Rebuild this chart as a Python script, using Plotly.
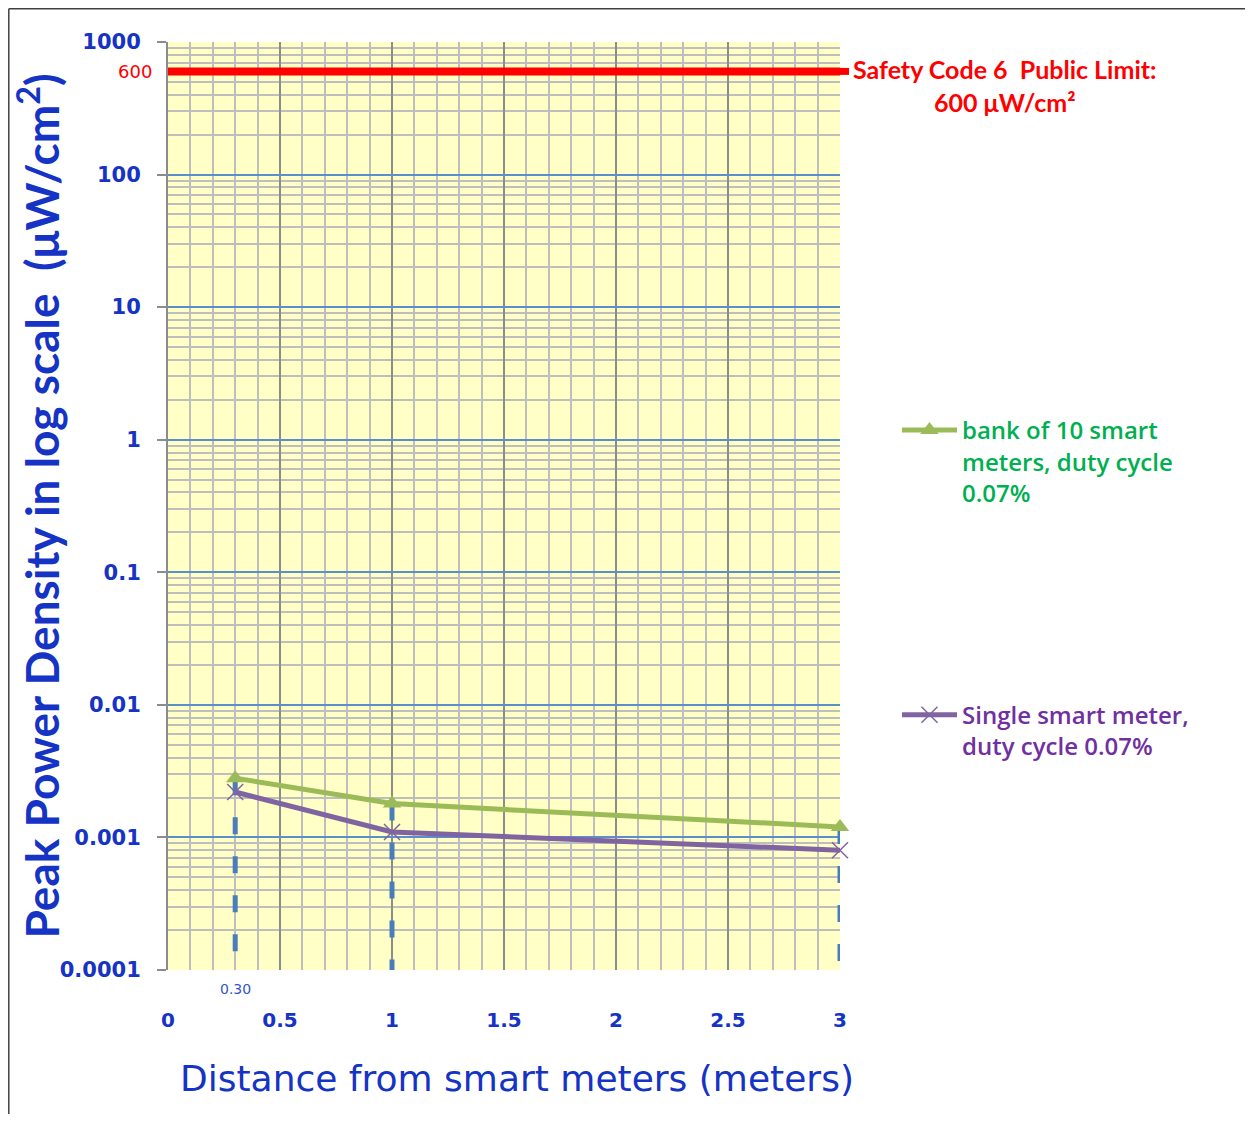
import math
import plotly.graph_objects as go

# ---- data ----
distance = [0.3, 1, 3]
bank_of_10 = [0.0028, 0.0018, 0.0012]
single_meter = [0.0022, 0.0011, 0.0008]
limit_x = [0, 3]
limit_value = 600

y_tickvals = [1000, 100, 10, 1, 0.1, 0.01, 0.001, 0.0001]
y_ticktext = ["1000", "100", "10", "1", "0.1", "0.01", "0.001", "0.0001"]
x_tickvals = [0, 0.5, 1, 1.5, 2, 2.5, 3]
x_ticktext = ["0", "0.5", "1", "1.5", "2", "2.5", "3"]

BLUE_TXT = "#1533C4"
OFF = 8  # page body margin
W, H = 1253 - 2 * OFF, 1122 - 2 * OFF
PX0, PX1, PY0, PY1 = 168 - OFF, 840 - OFF, 42 - OFF, 970 - OFF
L, R, T, B = PX0, W - PX1, PY0, H - PY1
pw, ph = PX1 - PX0, PY1 - PY0


def px_x(px):
    return (px - OFF - PX0) / pw


def px_y(py):
    return (PY1 - (py - OFF)) / ph


minor_y = [m * 10 ** e for e in range(-4, 3) for m in range(2, 10)]

fig = go.Figure()

# dashed drop lines
for xv, yv in zip(distance, bank_of_10):
    fig.add_trace(go.Scatter(
        x=[xv, xv], y=[yv, y_tickvals[-1]], mode="lines",
        line=dict(color="#4A7EBB", width=5, dash="17px,22px"),
        showlegend=False, hoverinfo="skip"))

# safety limit
fig.add_trace(go.Scatter(
    x=limit_x, y=[limit_value] * len(limit_x), mode="lines",
    line=dict(color="#FF0000", width=8), showlegend=False, hoverinfo="skip"))

fig.add_trace(go.Scatter(
    x=distance, y=bank_of_10, mode="lines+markers",
    name="<span style='color:#00B050'>bank of 10 smart<br>meters, duty cycle<br>0.07%</span>",
    legendgroup="a",
    line=dict(color="#9BBB59", width=5),
    marker=dict(symbol="triangle-up", size=16, color="#9BBB59"),
    cliponaxis=False))

fig.add_trace(go.Scatter(
    x=distance, y=single_meter, mode="lines+markers",
    name="<span style='color:#7030A0'>Single smart meter,<br>duty cycle 0.07%</span>",
    legendgroup="b",
    line=dict(color="#8064A2", width=5),
    marker=dict(symbol="x-thin-open", size=16, color="#8064A2",
                line=dict(color="#8064A2", width=1.5)),
    cliponaxis=False))

fig.update_layout(
    width=W, height=H,
    margin=dict(l=L, r=R, t=T, b=B),
    paper_bgcolor="white",
    plot_bgcolor="#FFFFC6",
    font=dict(family="DejaVu Sans", color=BLUE_TXT),
    legend=dict(
        x=px_x(897), y=px_y(408),
        xanchor="left", yanchor="top",
        bgcolor="rgba(0,0,0,0)",
        font=dict(family="Open Sans", size=24, weight=600),
        traceorder="grouped", tracegroupgap=188,
        valign="top", itemwidth=55),
)

fig.update_xaxes(
    range=[0, 3],
    tickmode="array", tickvals=x_tickvals, ticktext=x_ticktext,
    tickfont=dict(family="DejaVu Sans", size=20, weight="bold", color=BLUE_TXT),
    ticks="", ticklabelstandoff=36,
    showgrid=True, gridcolor="#8C8C8C", gridwidth=1.5,
    minor=dict(dtick=0.1, showgrid=True, gridcolor="#BEBEBE", gridwidth=1.5),
    zeroline=False, showline=False,
)

fig.update_yaxes(
    type="log", range=[-4, 3],
    tickmode="array", tickvals=y_tickvals, ticktext=y_ticktext,
    tickfont=dict(family="DejaVu Sans", size=21, weight="bold", color=BLUE_TXT),
    ticks="outside", ticklen=9, tickcolor="#8C8C8C", tickwidth=2,
    ticklabelstandoff=12,
    showgrid=True, gridcolor="#5B8FCB", gridwidth=1.5,
    minor=dict(tickmode="array", tickvals=minor_y, showgrid=True,
               gridcolor="#BEBEBE", gridwidth=1.5, ticks=""),
    showline=True, linecolor="#8C8C8C", linewidth=2,
    zeroline=False,
    title=dict(text="Peak Power Density in log scale  (μW/cm<sup>2</sup>)",
               font=dict(family="Lato", size=46, weight="bold", color=BLUE_TXT),
               standoff=4),
)

# x-axis title (as annotation for exact placement)
fig.add_annotation(xref="paper", yref="paper", x=px_x(517), y=px_y(1078),
                   xanchor="center", yanchor="middle", showarrow=False,
                   text="Distance from smart meters (meters)",
                   font=dict(family="DejaVu Sans", size=36, color=BLUE_TXT))

limit_log = math.log10(limit_value)
limit_paper = (limit_log - (-4)) / 7

fig.add_shape(type="line", xref="paper", yref="paper",
              x0=1, x1=px_x(849), y0=limit_paper, y1=limit_paper,
              line=dict(color="#FF0000", width=7))

fig.add_annotation(xref="paper", yref="y", x=0, y=limit_log, xshift=-14,
                   xanchor="right", yanchor="middle", showarrow=False,
                   text=str(limit_value),
                   font=dict(family="DejaVu Sans", size=18, color="#FF0000"))

fig.add_annotation(xref="paper", yref="y", x=px_x(1005), y=limit_log,
                   yshift=2,
                   xanchor="center", yanchor="middle", showarrow=False,
                   text="Safety Code 6  Public Limit:",
                   font=dict(family="Lato", size=25, weight="bold", color="#FF0000"))
fig.add_annotation(xref="paper", yref="y", x=px_x(1005), y=limit_log,
                   yshift=-31,
                   xanchor="center", yanchor="middle", showarrow=False,
                   text=f"{limit_value} μW/cm²",
                   font=dict(family="Lato", size=25, weight="bold", color="#FF0000"))

fig.add_annotation(xref="x", yref="paper", x=distance[0], y=0, yshift=-19,
                   xanchor="center", yanchor="middle", showarrow=False,
                   text=f"{distance[0]:.2f}",
                   font=dict(family="DejaVu Sans", size=14, color="#3355CC"))

# outer frame (top and left edges)
fx, fy = px_x(8.8), px_y(8.8)
fig.add_shape(type="line", xref="paper", yref="paper",
              x0=fx, x1=px_x(1260), y0=fy, y1=fy,
              line=dict(color="#404040", width=1.5))
fig.add_shape(type="line", xref="paper", yref="paper",
              x0=fx, x1=fx, y0=fy, y1=px_y(1130),
              line=dict(color="#404040", width=1.5))

fig.write_html("out.html")
